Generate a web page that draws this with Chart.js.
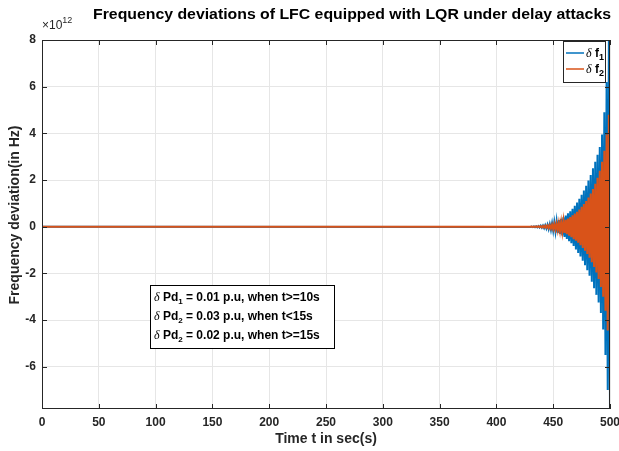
<!DOCTYPE html>
<html>
<head>
<meta charset="utf-8">
<script src="https://cdn.jsdelivr.net/npm/chart.js@4/dist/chart.umd.min.js"></script>
<style>
  html, body { margin: 0; padding: 0; background: #fff; }
  #wrap { width: 619px; height: 451px; }
</style>
</head>
<body>
<div id="wrap"><canvas id="freqChart" width="619" height="451"></canvas></div>
<script>
// time samples (s); flat at zero until the oscillation starts near 430 s
const tSec = [0,
  430, 431, 432, 433, 434, 435, 436, 437, 438, 439,
  440, 441, 442, 443, 444, 445, 446, 447, 448, 449,
  450, 451, 452, 453, 454, 455, 456, 457, 458, 459,
  460, 461, 462, 463, 464, 465, 466, 467, 468, 469,
  470, 471, 472, 473, 474, 475, 476, 477, 478, 479,
  480, 481, 482, 483, 484, 485, 486, 487, 488, 489,
  490, 491, 492, 493, 494, 495, 496, 497, 498, 499, 500];

// delta f1 (x 1e12 Hz)
const df1 = [0,
  -0.01, 0.01, -0.015, 0.015, -0.02, 0.02, -0.025, 0.03, -0.035, 0.04,
  -0.045, 0.05, -0.06, 0.065, -0.075, 0.085, -0.1, 0.11, -0.13, 0.15,
  -0.17, 0.19, -0.21, 0.23, -0.26, 0.28, -0.31, 0.34, -0.37, 0.40,
  -0.44, 0.48, -0.52, 0.57, -0.62, 0.66, -0.71, 0.77, -0.83, 0.9,
  -0.97, 1.04, -1.12, 1.2, -1.28, 1.37, -1.46, 1.55, -1.65, 1.75,
  -1.86, 1.98, -2.1, 2.22, -2.36, 2.5, -2.64, 2.78, -2.92, 3.08,
  -3.25, 3.42, -3.7, 3.95, -4.4, 4.9, -5.5, 6.2, -7.0, 8.0, -7.8];

// delta f2 (x 1e12 Hz)
const df2 = [0,
  -0.005, 0.005, -0.01, 0.01, -0.01, 0.012, -0.015, 0.018, -0.02, 0.025,
  -0.028, 0.032, -0.036, 0.04, -0.045, 0.05, -0.06, 0.065, -0.075, 0.085,
  -0.1, 0.11, -0.12, 0.135, -0.15, 0.165, -0.18, 0.2, -0.22, 0.24,
  -0.27, 0.29, -0.32, 0.35, -0.38, 0.41, -0.45, 0.49, -0.53, 0.56,
  -0.6, 0.64, -0.69, 0.74, -0.79, 0.85, -0.91, 0.97, -1.03, 1.1,
  -1.17, 1.25, -1.33, 1.42, -1.52, 1.62, -1.73, 1.84, -1.96, 2.1,
  -2.24, 2.4, -2.58, 2.78, -3.0, 3.25, -3.6, 3.95, -4.45, 4.8, -4.2];

const xTicks = [0, 50, 100, 150, 200, 250, 300, 350, 400, 450, 500];
const yTicks = [-6, -4, -2, 0, 2, 4, 6, 8];
const yMin = -7.81, yMax = 8.0;

const BLUE = '#0072BD', ORANGE = '#D95319', INK = '#262626';
const SANS = '"Liberation Sans", Arial, Helvetica, sans-serif';

// draw a row of text pieces (for subscripts / greek letters)
function drawRuns(ctx, runs, x, y) {
  runs.forEach(r => {
    ctx.font = r.font;
    ctx.fillText(r.t, x, y + (r.dy || 0));
    x += ctx.measureText(r.t).width;
  });
  return x;
}

function fitText(ctx, txt, font, x, y, w) {
  ctx.font = font;
  const m = ctx.measureText(txt).width;
  ctx.save();
  ctx.translate(x, y);
  ctx.scale(w / m, 1);
  ctx.fillText(txt, 0, 0);
  ctx.restore();
}

const matlabLook = {
  id: 'matlabLook',
  afterDatasetsDraw(chart) {
    const ctx = chart.ctx;
    const a = chart.chartArea;
    const xs = chart.scales.x, ys = chart.scales.y;
    ctx.save();

    // axes box + inward ticks
    ctx.strokeStyle = INK;
    ctx.lineWidth = 1;
    ctx.strokeRect(a.left + 0.5, a.top + 0.5, a.right - a.left - 1, a.bottom - a.top - 1);
    ctx.beginPath();
    xTicks.forEach(v => {
      const px = Math.round(xs.getPixelForValue(v)) + 0.5;
      ctx.moveTo(px, a.bottom); ctx.lineTo(px, a.bottom - 5);
      ctx.moveTo(px, a.top); ctx.lineTo(px, a.top + 5);
    });
    yTicks.forEach(v => {
      const py = Math.round(ys.getPixelForValue(v)) + 0.5;
      ctx.moveTo(a.left, py); ctx.lineTo(a.left + 5, py);
      ctx.moveTo(a.right, py); ctx.lineTo(a.right - 5, py);
    });
    ctx.stroke();

    // title
    ctx.fillStyle = '#000';
    ctx.textBaseline = 'alphabetic';
    ctx.textAlign = 'left';
    fitText(ctx, 'Frequency deviations of LFC equipped with LQR under delay attacks',
      'bold 15px ' + SANS, 93, 19, 518);

    // exponent
    ctx.fillStyle = INK;
    drawRuns(ctx, [
      { t: '\u00d710', font: '12px ' + SANS },
      { t: '12', font: '9px ' + SANS, dy: -6 }
    ], 42, 29);

    // axis titles
    ctx.font = 'bold 14px ' + SANS;
    ctx.textAlign = 'center';
    ctx.fillText('Time t in sec(s)', (a.left + a.right) / 2, 443);
    ctx.save();
    ctx.translate(19, 215);
    ctx.rotate(-Math.PI / 2);
    ctx.fillText('Frequency deviation(in Hz)', 0, 0);
    ctx.restore();
    ctx.textAlign = 'left';

    // legend
    ctx.fillStyle = '#fff';
    ctx.fillRect(563, 41, 43, 42);
    ctx.strokeStyle = INK;
    ctx.strokeRect(563.5, 41.5, 42, 41);
    [[BLUE, 53, '1'], [ORANGE, 69, '2']].forEach(([c, y, k]) => {
      ctx.strokeStyle = c;
      ctx.lineWidth = 1.5;
      ctx.beginPath(); ctx.moveTo(566, y); ctx.lineTo(584, y); ctx.stroke();
      ctx.fillStyle = '#000';
      drawRuns(ctx, [
        { t: '\u03b4', font: 'italic 12px "Liberation Serif", serif' },
        { t: ' f', font: 'bold 12px ' + SANS },
        { t: k, font: 'bold 9px ' + SANS, dy: 3 }
      ], 586, y + 4);
    });

    // annotation box
    ctx.fillStyle = '#fff';
    ctx.fillRect(150, 285, 184, 63);
    ctx.strokeStyle = '#000';
    ctx.lineWidth = 1;
    ctx.strokeRect(150.5, 285.5, 184, 63);
    ctx.fillStyle = '#000';
    const notes = [
      ['1', ' = 0.01 p.u, when t>=10s'],
      ['2', ' = 0.03 p.u, when t<15s'],
      ['2', ' = 0.02 p.u, when t>=15s']
    ];
    notes.forEach(([k, rest], i) => {
      drawRuns(ctx, [
        { t: '\u03b4', font: 'italic 12px "Liberation Serif", serif' },
        { t: ' Pd', font: 'bold 12px ' + SANS },
        { t: k, font: 'bold 8px ' + SANS, dy: 3 },
        { t: rest, font: 'bold 12px ' + SANS }
      ], 154, 301 + i * 19);
    });

    ctx.restore();
  }
};

const ctx = document.getElementById('freqChart').getContext('2d');
new Chart(ctx, {
  type: 'line',
  data: {
    datasets: [
      {
        label: '\u03b4 f1',
        data: tSec.map((t, i) => ({ x: t, y: df1[i] })),
        borderColor: BLUE,
        borderWidth: 2,
        pointRadius: 0,
        tension: 0,
        order: 2
      },
      {
        label: '\u03b4 f2',
        data: tSec.map((t, i) => ({ x: t, y: df2[i] })),
        borderColor: ORANGE,
        borderWidth: 2,
        pointRadius: 0,
        tension: 0,
        order: 1
      }
    ]
  },
  options: {
    responsive: false,
    animation: false,
    devicePixelRatio: 1,
    layout: { padding: { top: 40, right: 9, left: 0, bottom: 0 } },
    plugins: { legend: { display: false }, tooltip: { enabled: false }, title: { display: false } },
    scales: {
      x: {
        type: 'linear',
        min: 0, max: 500,
        afterBuildTicks: s => { s.ticks = xTicks.map(v => ({ value: v })); },
        afterFit: s => { s.height = 42; s.paddingLeft = 0; s.paddingRight = 0; },
        grid: { color: '#e6e6e6', drawTicks: false },
        border: { display: false },
        ticks: { color: INK, padding: 6, maxRotation: 0, font: { family: SANS, size: 12, weight: 'bold' } }
      },
      y: {
        type: 'linear',
        min: yMin, max: yMax,
        afterBuildTicks: s => { s.ticks = yTicks.map(v => ({ value: v })); },
        afterFit: s => { s.width = 42; s.paddingTop = 0; s.paddingBottom = 0; },
        grid: { color: '#e6e6e6', drawTicks: false },
        border: { display: false },
        ticks: { color: INK, padding: 6, font: { family: SANS, size: 12, weight: 'bold' } }
      }
    }
  },
  plugins: [matlabLook]
});
</script>
</body>
</html>
